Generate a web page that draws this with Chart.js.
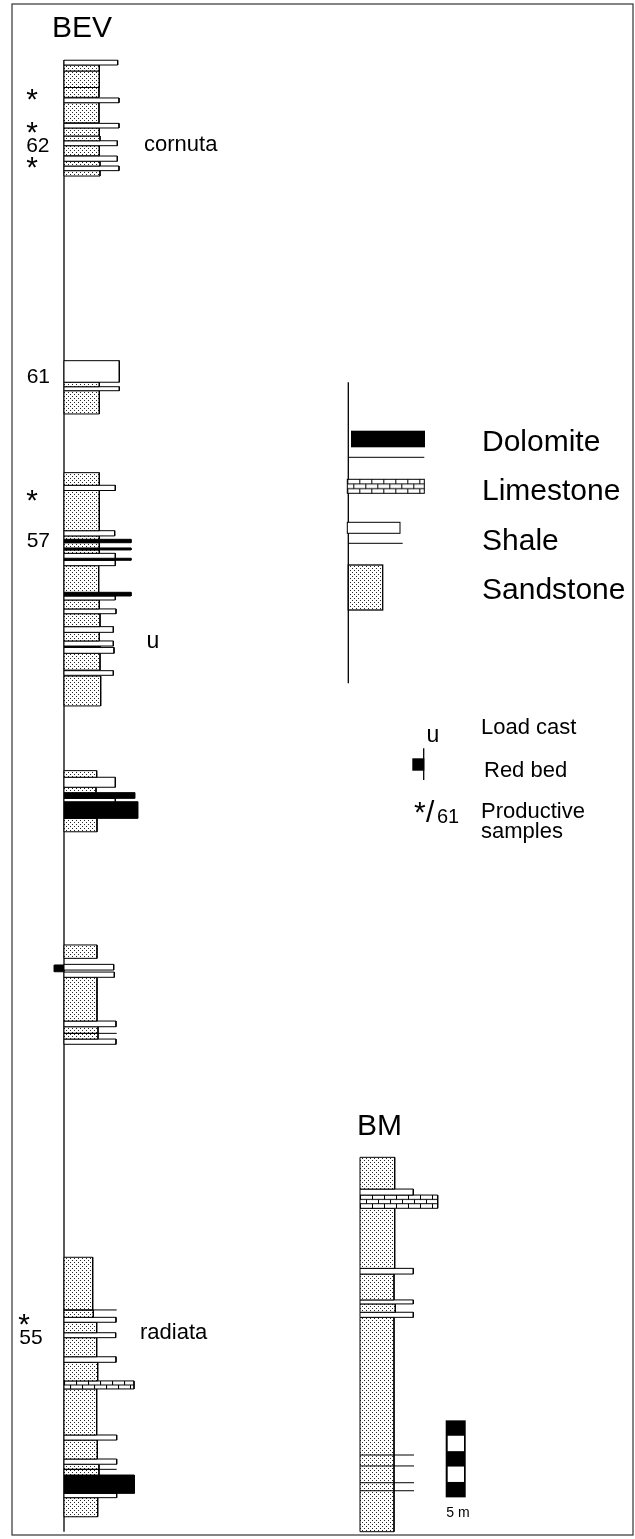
<!DOCTYPE html>
<html>
<head>
<meta charset="utf-8">
<script src="https://cdn.jsdelivr.net/npm/chart.js@4.4.0/dist/chart.umd.min.js"></script>
<style>
html, body { margin: 0; padding: 0; background: #fff; }
canvas { display: block; }
</style>
</head>
<body>
<canvas id="log" width="635" height="1539"></canvas>
<script>
// heights in metres above the base of the sections
// bed = [top, bottom, lithology, profile width]
// ss sandstone, sh shale, do dolomite, ls limestone, ln thin shale parting
const bevBeds = [
	[95.55, 95.24, 'sh', 53.7],
	[95.24, 94.85, 'ss', 35.3],
	[94.85, 93.78, 'ss', 35.3],
	[93.78, 93.14, 'ss', 35],
	[93.10, 92.79, 'sh', 55],
	[92.79, 91.49, 'ss', 35],
	[91.45, 91.15, 'sh', 55],
	[91.15, 90.63, 'ss', 35.3],
	[90.63, 90.32, 'ss', 36],
	[90.32, 90.00, 'sh', 53.3],
	[90.00, 89.35, 'ss', 35.3],
	[89.33, 88.99, 'sh', 53.3],
	[88.99, 88.68, 'ss', 36],
	[88.68, 88.38, 'sh', 55],
	[88.38, 88.03, 'ss', 36],
	[76.04, 74.64, 'sh', 55.3],
	[74.64, 74.35, 'ss', 35.3],
	[74.35, 74.09, 'sh', 55.3],
	[74.09, 72.58, 'ss', 35.3],
	[68.77, 67.95, 'ss', 35.3],
	[67.95, 67.61, 'sh', 51.3],
	[67.61, 65.00, 'ss', 35.3],
	[65.00, 64.66, 'sh', 50.7],
	[64.66, 64.44, 'ss', 35.3],
	[64.44, 64.22, 'do', 67],
	[64.22, 63.88, 'ss', 35.3],
	[63.88, 63.75, 'do', 67],
	[63.75, 63.53, 'ss', 35.3],
	[63.53, 63.21, 'sh', 51.3],
	[63.21, 63.08, 'do', 67],
	[63.08, 62.73, 'sh', 51.3],
	[62.73, 61.00, 'ss', 34.7],
	[61.00, 60.76, 'do', 67],
	[60.76, 60.50, 'sh', 51.3],
	[60.50, 59.92, 'ss', 35.3],
	[59.92, 59.61, 'sh', 52],
	[59.61, 58.77, 'ss', 36],
	[58.77, 58.40, 'sh', 49.3],
	[58.40, 57.84, 'ss', 35.3],
	[57.84, 57.51, 'sh', 49.3],
	[57.51, 57.42, 'do', 36],
	[57.42, 57.04, 'sh', 50],
	[57.04, 55.95, 'ss', 36],
	[55.91, 55.61, 'sh', 49.3],
	[55.56, 53.62, 'ss', 36.7],
	[49.42, 48.99, 'ss', 32.7],
	[48.99, 48.34, 'sh', 51.3],
	[48.34, 47.99, 'ss', 32],
	[47.99, 47.62, 'do', 70.7],
	[47.62, 47.40, 'sh', 51.3],
	[47.40, 46.32, 'do', 73.7],
	[46.32, 45.45, 'ss', 33],
	[38.10, 37.23, 'ss', 33],
	[36.84, 36.47, 'sh', 49.7],
	[36.34, 36.00, 'sh', 50.3],
	[36.00, 33.16, 'ss', 33],
	[33.16, 32.79, 'sh', 52],
	[32.79, 32.36, 'ss', 34],
	[32.36, 32.36, 'ln', 52.7],
	[32.36, 31.99, 'ss', 34],
	[31.99, 31.65, 'sh', 52],
	[17.82, 14.40, 'ss', 28.7],
	[14.40, 14.40, 'ln', 52.7],
	[14.40, 13.92, 'ss', 29.3],
	[13.92, 13.60, 'sh', 52],
	[13.60, 12.92, 'ss', 32.7],
	[12.92, 12.60, 'sh', 51.7],
	[12.60, 11.36, 'ss', 32.7],
	[11.36, 11.00, 'sh', 52],
	[11.00, 9.79, 'ss', 33.7],
	[9.79, 9.27, 'ls', 70],
	[9.27, 6.28, 'ss', 32.7],
	[6.28, 5.95, 'sh', 52.7],
	[5.95, 4.72, 'ss', 33.3],
	[4.72, 4.38, 'sh', 52.7],
	[4.38, 4.05, 'ss', 35],
	[4.05, 4.05, 'ln', 52.7],
	[4.05, 3.68, 'ss', 35],
	[3.68, 2.49, 'do', 70.3],
	[2.49, 2.21, 'sh', 52.7],
	[2.21, 0.97, 'ss', 33.7]
];
const bevTopLevel = 95.56;

const bmBeds = [
	[24.31, 22.25, 'ss', 34.7],
	[22.25, 21.86, 'sh', 53.3],
	[21.86, 21.00, 'ls', 77.7],
	[21.00, 17.10, 'ss', 34.7],
	[17.10, 16.73, 'sh', 53.3],
	[16.73, 15.05, 'ss', 34],
	[15.05, 14.79, 'sh', 53.3],
	[14.79, 14.25, 'ss', 35.3],
	[14.25, 13.92, 'sh', 53.3],
	[13.92, 0.00, 'ss', 34]
];
const bmPartings = [4.98, 4.27, 3.18, 2.66];
const bmPartingWidth = 54;

// red bed [top, bottom]
const redBeds = [[36.80, 36.36]];

// samples
const productiveLevels = [93.49, 91.34, 89.07, 67.42, 13.96];
const sampleNumbers = ['62', '61', '57', '55'];
const sampleLevels = [90.11, 75.06, 64.46, 12.66];
const zoneNames = ['cornuta', 'radiata'];
const zoneLevels = [90.00, 12.88];
const loadCastLevels = [57.79];

// scale bar, metres
const scaleBarBase = 2.23;
const scaleBarLength = 5;

// layout (drawing units = px across the sheet)
const BEV_X = 64;
const BM_X = 360;
const STAR_X = [32, 32, 32, 32, 24];
const SAMPLE_RIGHT = [49.5, 50, 50, 42.7];
const ZONE_X = [144, 140];
const LOADCAST_X = 153;
const Y_MIN = -0.474, Y_MAX = 99.461;
const FONT = '"Liberation Sans", Arial, sans-serif';

var canvas = document.getElementById('log');
var ctx = canvas.getContext('2d');

function font(size){
	return size + 'px ' + FONT;
}

//stipple for sandstone
function sandPattern(){
	let c = document.createElement('canvas');
	c.width = 4; c.height = 4;
	let g = c.getContext('2d');
	g.fillStyle = '#fff';
	g.fillRect(0, 0, 4, 4);
	g.fillStyle = 'rgba(0,0,0,0.85)';
	g.fillRect(0, 0, 1, 1);
	g.fillRect(2, 2, 1, 1);
	return ctx.createPattern(c, 'repeat');
}

//brick tile for limestone, height = bed height in px
function limeTile(h){
	let rows = Math.max(1, Math.round(h / 4.5));
	let c = document.createElement('canvas');
	c.width = 12;
	c.height = Math.max(1, Math.round(h));
	let g = c.getContext('2d');
	g.fillStyle = '#fff';
	g.fillRect(0, 0, 12, c.height);
	g.strokeStyle = '#000';
	g.lineWidth = 1;
	let rh = c.height / rows;
	g.beginPath();
	for(let r = 0 ; r < rows ; r++){
		let y = r * rh;
		if(r > 0){ g.moveTo(0, y); g.lineTo(12, y); }
		let tx = (r % 2) ? 6.5 : 0.5;
		g.moveTo(tx, y); g.lineTo(tx, y + rh);
	}
	g.stroke();
	return c;
}

function limePattern(x0, yTop, h){
	let p = ctx.createPattern(limeTile(h), 'repeat');
	p.setTransform(new DOMMatrix([1, 0, 0, 1, x0, yTop]));
	return p;
}

const SAND = sandPattern();
const FILLS = { ss: SAND, sh: '#fff', do: '#000' };

function limeFill(c){
	let b = c.dataset.bed;
	let ys = c.chart.scales.y;
	let yTop = ys.getPixelForValue(b.top);
	let yBot = ys.getPixelForValue(b.bottom);
	if(!isFinite(yTop) || !isFinite(yBot)) return '#fff';
	return limePattern(b.x0, yTop, yBot - yTop);
}

function bedDataset(x0, bed){
	let top = bed[0], bottom = bed[1], lith = bed[2], x1 = x0 + bed[3];
	if(lith === 'ln'){
		//partings are drawn over the beds
		return { data: [{x: x0, y: top}, {x: x1, y: top}], borderColor: '#000', borderWidth: 1, fill: false, pointRadius: 0, order: -1 };
	}
	return {
		data: [{x: x0, y: top}, {x: x1, y: top}, {x: x1, y: bottom}, {x: x0, y: bottom}, {x: x0, y: top}],
		bed: { x0: x0, top: top, bottom: bottom },
		fill: 'shape',
		backgroundColor: lith === 'ls' ? limeFill : FILLS[lith],
		borderColor: '#000',
		borderWidth: 1,
		borderJoinStyle: 'miter',
		pointRadius: 0,
		order: 0
	};
}

var datasets = [];
bevBeds.forEach(function(b){ datasets.push(bedDataset(BEV_X, b)); });
bmBeds.forEach(function(b){ datasets.push(bedDataset(BM_X, b)); });
bmPartings.forEach(function(h){ datasets.push(bedDataset(BM_X, [h, h, 'ln', bmPartingWidth])); });
redBeds.forEach(function(r){ datasets.push(bedDataset(BEV_X, [r[0], r[1], 'do', -9.7])); });
//the BEV column axis
datasets.push({ data: [{x: BEV_X, y: 0}, {x: BEV_X, y: bevTopLevel}], borderColor: '#000', borderWidth: 1.3, fill: false, pointRadius: 0, order: 1 });

//text, legend, scale bar, frame
const decor = {
	id: 'decor',
	afterDatasetsDraw(chart){
		let c = chart.ctx;
		let ys = chart.scales.y;
		c.save();
		c.strokeStyle = '#333';
		c.lineWidth = 1.2;
		c.strokeRect(12, 4, 621, 1531);

		c.fillStyle = '#000';
		c.textAlign = 'left';
		c.font = font(30);
		c.fillText('BEV', 52, 37);
		c.fillText('BM', 357, 1135);

		//productive samples
		c.textAlign = 'center';
		c.font = font(30);
		productiveLevels.forEach(function(h, i){
			c.fillText('*', STAR_X[i], ys.getPixelForValue(h) + 17);
		});
		c.textAlign = 'right';
		c.font = font(21);
		sampleLevels.forEach(function(h, i){
			c.fillText(sampleNumbers[i], SAMPLE_RIGHT[i], ys.getPixelForValue(h) + 7.5);
		});
		c.textAlign = 'left';
		c.font = font(22);
		zoneLevels.forEach(function(h, i){
			c.fillText(zoneNames[i], ZONE_X[i], ys.getPixelForValue(h) + 5.7);
		});
		c.textAlign = 'center';
		c.font = font(23);
		loadCastLevels.forEach(function(h){
			c.fillText('u', LOADCAST_X, ys.getPixelForValue(h) + 6);
		});

		//scale bar
		let sbTop = ys.getPixelForValue(scaleBarBase + scaleBarLength);
		let sbBot = ys.getPixelForValue(scaleBarBase);
		c.fillStyle = '#000';
		c.fillRect(445.7, sbTop, 20, sbBot - sbTop);
		c.fillStyle = '#fff';
		for(let i = 1 ; i < scaleBarLength ; i += 2){
			let a = ys.getPixelForValue(scaleBarBase + i + 1);
			let b = ys.getPixelForValue(scaleBarBase + i);
			c.fillRect(447.7, a, 16.3, b - a);
		}
		c.fillStyle = '#000';
		c.font = font(14);
		c.fillText('5 m', 458, 1516.5);

		//legend
		c.strokeStyle = '#000';
		c.lineWidth = 1.3;
		c.beginPath();
		c.moveTo(348.3, 382.3); c.lineTo(348.3, 683.3);
		c.stroke();
		c.lineWidth = 1;
		c.fillStyle = '#000';
		c.fillRect(351, 430.7, 74, 16.6);
		c.beginPath();
		c.moveTo(348, 457.3); c.lineTo(424.3, 457.3);
		c.moveTo(348, 543.3); c.lineTo(402.7, 543.3);
		c.stroke();
		c.fillStyle = limePattern(347.3, 479.3, 14);
		c.fillRect(347.3, 479.3, 77, 14);
		c.strokeRect(347.3, 479.3, 77, 14);
		c.fillStyle = '#fff';
		c.fillRect(347.3, 522.3, 52.7, 11);
		c.strokeRect(347.3, 522.3, 52.7, 11);
		c.fillStyle = SAND;
		c.fillRect(348.3, 565, 34.4, 45);
		c.lineWidth = 1.3;
		c.strokeRect(348.3, 565, 34.4, 45);

		c.fillStyle = '#000';
		c.textAlign = 'left';
		c.font = font(30);
		c.fillText('Dolomite', 482, 451);
		c.fillText('Limestone', 482, 500);
		c.fillText('Shale', 482, 550);
		c.fillText('Sandstone', 482, 599);

		c.font = font(23);
		c.textAlign = 'center';
		c.fillText('u', 433, 741.7);
		c.lineWidth = 1.3;
		c.beginPath();
		c.moveTo(423.7, 748.3); c.lineTo(423.7, 780);
		c.stroke();
		c.fillRect(412.3, 758.3, 12, 12.4);
		c.textAlign = 'left';
		c.font = font(30);
		c.fillText('*', 414, 822);
		c.fillText('/', 426, 822);
		c.font = font(20);
		c.fillText('61', 437, 823);

		c.font = font(22);
		c.fillText('Load cast', 481, 734.3);
		c.fillText('Red bed', 484, 777.3);
		c.fillText('Productive', 481, 817.5);
		c.fillText('samples', 481, 838);
		c.restore();
	}
};

var chart = new Chart(ctx, {
	type: 'line',
	data: { datasets: datasets },
	options: {
		responsive: false,
		animation: false,
		devicePixelRatio: 1,
		events: [],
		layout: { padding: 0 },
		elements: { line: { tension: 0 } },
		plugins: { legend: { display: false }, tooltip: { enabled: false } },
		scales: {
			x: { type: 'linear', min: 0, max: 635, display: false },
			y: { type: 'linear', min: Y_MIN, max: Y_MAX, display: false }
		}
	},
	plugins: [decor]
});
</script>
</body>
</html>
